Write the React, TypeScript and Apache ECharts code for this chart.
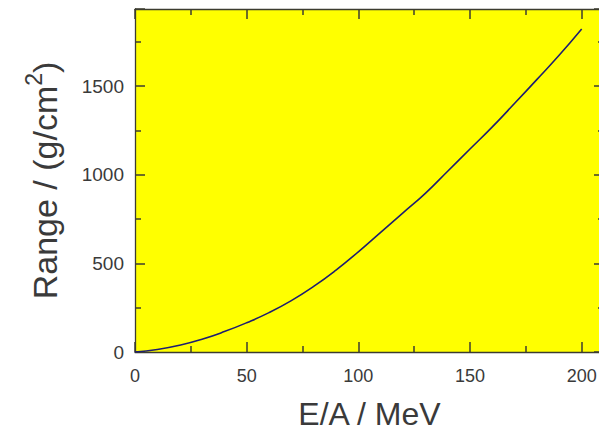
import React, { useEffect, useRef } from "react";
import * as echarts from "echarts";

const energies = [0, 10, 20, 30, 40, 50, 60, 70, 80, 90, 100, 110, 120, 130, 140, 150, 160, 170, 180, 190, 200];
const ranges = [0, 14, 38, 72, 115, 165, 222, 290, 370, 462, 565, 675, 785, 895, 1020, 1145, 1270, 1403, 1538, 1675, 1822];
const xTicks = [0, 50, 100, 150, 200];
const yTicks = [0, 500, 1000, 1500];

const FONT = "'Liberation Sans', Arial, sans-serif";
const TEXT = "#3a3a3a";
const AXIS = "#3c3c30";

const tick = (inside: boolean) => ({ show: true, inside, length: 10, lineStyle: { color: AXIS, width: 1.5 } });
const minor = () => ({ show: true, splitNumber: 2, length: 6, lineStyle: { color: AXIS, width: 1.5 } });
const line = (onZero: boolean, show = true) => ({ show, onZero, lineStyle: { color: AXIS, width: 1.3 } });

export default function App() {
  const ref = useRef<HTMLDivElement>(null);
  useEffect(() => {
    if (!ref.current) return;
    const chart = echarts.init(ref.current, undefined, { renderer: "svg" });
    const data = energies.map((e, i) => [e, ranges[i]]);
    chart.setOption({
      animation: false,
      backgroundColor: "#ffffff",
      textStyle: { fontFamily: FONT },
      grid: {
        left: 135, top: 9, bottom: 79, width: 469,
        show: true, backgroundColor: "#ffff00", borderWidth: 0,
        outerBoundsMode: "none",
      },
      xAxis: [
        {
          type: "value", position: "bottom", min: 0, max: 210, interval: 50,
          name: "E/A / MeV", nameLocation: "middle", nameGap: 46,
          nameTextStyle: { fontSize: 32, lineHeight: 32, color: TEXT, fontFamily: FONT },
          axisLine: line(false), axisTick: { show: false }, minorTick: { show: false }, splitLine: { show: false },
          axisLabel: { showMaxLabel: false, fontSize: 18, color: TEXT, margin: 15, fontFamily: FONT,
            formatter: (v: number) => (xTicks.includes(v) ? String(v) : "") },
        },
        {
          // tick marks along the bottom edge (top-positioned axis moved onto y = 0, ticks pointing up)
          type: "value", position: "top", min: 0, max: 210, interval: 50,
          axisLine: line(true, false), axisTick: tick(false), minorTick: minor(), splitLine: { show: false }, axisLabel: { show: false },
        },
        {
          type: "value", position: "top", min: 0, max: 210, interval: 50,
          axisLine: line(false), axisTick: tick(true), minorTick: minor(), splitLine: { show: false }, axisLabel: { show: false },
        },
      ],
      yAxis: [
        {
          type: "value", position: "left", min: 0, max: 1935, interval: 500,
          name: "{a|Range / (g/cm}{sup|2}{a|)}", nameLocation: "middle", nameGap: 73,
          nameTextStyle: { color: TEXT, fontFamily: FONT, rich: {
            a: { fontSize: 34, color: TEXT, fontFamily: FONT, lineHeight: 40, verticalAlign: "bottom" },
            sup: { fontSize: 23, color: TEXT, fontFamily: FONT, verticalAlign: "top", lineHeight: 40 } } },
          axisLine: line(false), axisTick: tick(true), minorTick: minor(), splitLine: { show: false },
          axisLabel: { showMaxLabel: false, fontSize: 19, color: TEXT, margin: 11, fontFamily: FONT,
            formatter: (v: number) => (yTicks.includes(v) ? String(v) : "") },
        },
        {
          type: "value", position: "right", min: 0, max: 1935, interval: 500,
          axisLine: line(false), axisTick: tick(true), minorTick: minor(), splitLine: { show: false }, axisLabel: { show: false },
        },
      ],
      series: [{
        type: "line", xAxisIndex: 0, yAxisIndex: 0, data, smooth: true, showSymbol: false,
        lineStyle: { color: "#1e1e70", width: 1.6 }, itemStyle: { color: "#1e1e70" },
      }],
    });
    return () => chart.dispose();
  }, []);
  return <div ref={ref} style={{ position: "fixed", left: 0, top: 0, width: 599, height: 431 }} />;
}
